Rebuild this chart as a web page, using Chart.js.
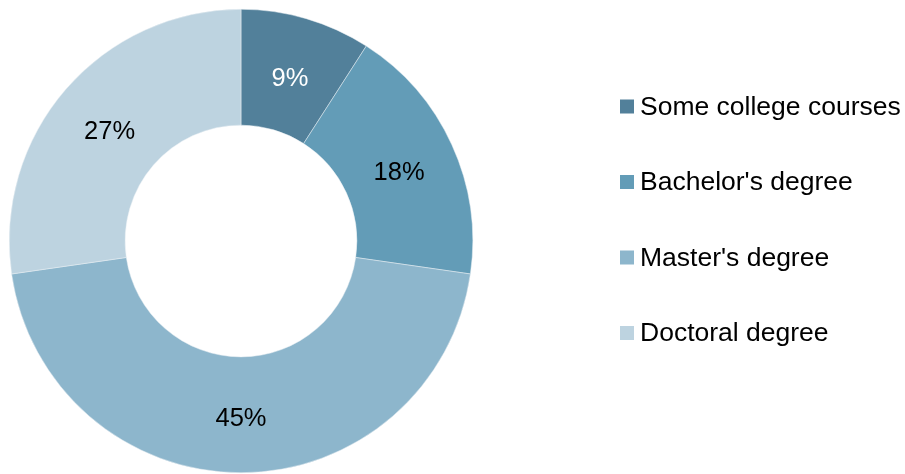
<!DOCTYPE html>
<html>
<head>
<meta charset="utf-8">
<script src="https://cdn.jsdelivr.net/npm/chart.js@4/dist/chart.umd.min.js"></script>
<style>
  html, body { margin: 0; padding: 0; background: #fff; }
  #wrap { position: relative; width: 905px; height: 474px; }
</style>
</head>
<body>
<div id="wrap"><canvas id="chart" width="905" height="474"></canvas></div>
<script>
const categories = ['Some college courses', "Bachelor's degree", "Master's degree", 'Doctoral degree']
const shares = [9, 18, 45, 27]
const sliceColors = ['#52809a', '#639cb7', '#8db6cc', '#bdd3e0']
const labelColors = ['#ffffff', '#000000', '#000000', '#000000']

const FONT = 'Liberation Sans, Arial, sans-serif'

// percentage text at the middle of each arc
const arcLabels = {
  id: 'arcLabels',
  afterDatasetsDraw (chart) {
    const ctx = chart.ctx
    const meta = chart.getDatasetMeta(0)
    ctx.save()
    ctx.font = '25.5px ' + FONT
    ctx.textAlign = 'center'
    ctx.textBaseline = 'middle'
    meta.data.forEach((arc, i) => {
      const mid = (arc.startAngle + arc.endAngle) / 2
      const r = (arc.innerRadius + arc.outerRadius) / 2
      ctx.fillStyle = labelColors[i]
      ctx.fillText(shares[i] + '%', arc.x + Math.cos(mid) * r, arc.y + Math.sin(mid) * r + 4.5)
    })
    ctx.restore()
  }
}

// legend on the right, one row per category
const sideLegend = {
  id: 'sideLegend',
  afterDraw (chart) {
    const ctx = chart.ctx
    ctx.save()
    ctx.font = '26.5px ' + FONT
    ctx.textBaseline = 'middle'
    categories.forEach((name, i) => {
      const cy = 106.5 + i * 75.5
      ctx.fillStyle = sliceColors[i]
      ctx.fillRect(620, cy - 7, 14, 14)
      ctx.fillStyle = '#000000'
      ctx.fillText(name, 640, cy + 1)
    })
    ctx.restore()
  }
}

new Chart(document.getElementById('chart'), {
  type: 'doughnut',
  data: {
    labels: categories,
    datasets: [{
      data: shares,
      backgroundColor: sliceColors,
      borderColor: '#e8eef2',
      borderWidth: 0.5
    }]
  },
  options: {
    responsive: false,
    animation: false,
    cutout: '50%',
    layout: { padding: { left: 9, top: 9, right: 432, bottom: 1 } },
    plugins: {
      legend: { display: false },
      tooltip: { enabled: false }
    }
  },
  plugins: [arcLabels, sideLegend]
})
</script>
</body>
</html>
